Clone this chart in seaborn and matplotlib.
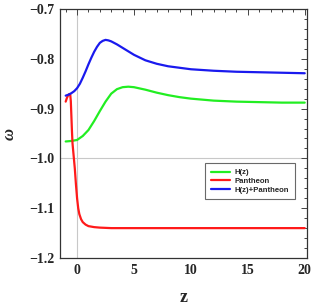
import numpy as np
import pandas as pd
import matplotlib
matplotlib.use("Agg")
import matplotlib.pyplot as plt
import seaborn as sns
from matplotlib.ticker import MultipleLocator

sns.set_style("white")

z_blue = [-1, -0.75, -0.5, -0.25, 0, 0.25, 0.5, 0.75, 1, 1.25, 1.5, 1.75, 2, 2.25, 2.5, 2.75, 3, 3.5, 4, 5, 6, 7, 8, 9, 10, 12, 14, 16, 18, 20]
w_blue = [-0.874, -0.872, -0.869, -0.865, -0.859, -0.850, -0.838, -0.825, -0.811, -0.798, -0.786, -0.776, -0.768, -0.764, -0.762, -0.763, -0.765, -0.771, -0.778, -0.792, -0.803, -0.810, -0.815, -0.818, -0.821, -0.824, -0.826, -0.827, -0.828, -0.829]

z_green = [-1, -0.5, 0, 0.5, 1, 1.5, 2, 2.5, 3, 3.5, 4, 4.5, 5, 6, 7, 8, 9, 10, 12, 14, 16, 18, 20]
w_green = [-0.966, -0.965, -0.963, -0.955, -0.943, -0.925, -0.905, -0.886, -0.870, -0.861, -0.857, -0.856, -0.857, -0.862, -0.868, -0.873, -0.877, -0.880, -0.884, -0.886, -0.887, -0.888, -0.888]

z_red = [-1, -0.9, -0.8, -0.7, -0.6, -0.55, -0.5, -0.45, -0.4, -0.3, -0.2, -0.1, 0, 0.1, 0.2, 0.35, 0.5, 0.75, 1, 1.5, 2, 3, 5, 10, 15, 20]
w_red = [-0.886, -0.879, -0.874, -0.871, -0.872, -0.885, -0.915, -0.945, -0.970, -0.995, -1.020, -1.052, -1.080, -1.100, -1.112, -1.122, -1.128, -1.133, -1.136, -1.138, -1.139, -1.140, -1.140, -1.140, -1.140, -1.140]

labels = ["H(z)", "Pantheon", "H(z)+Pantheon"]
colors = ["#22ee22", "#ff1a1a", "#1a1aee"]
xtick_vals = [0, 5, 10, 15, 20]
ytick_vals = [-1.2, -1.1, -1.0, -0.9, -0.8, -0.7]
ytick_labels = ["\u22121.2", "\u22121.1", "\u22121.0", "\u22120.9", "\u22120.8", "\u22120.7"]

df = pd.concat([
    pd.DataFrame({"z": z_green, "w": w_green, "model": labels[0]}),
    pd.DataFrame({"z": z_red, "w": w_red, "model": labels[1]}),
    pd.DataFrame({"z": z_blue, "w": w_blue, "model": labels[2]}),
])

fig = plt.figure(figsize=(3.13, 3.07), dpi=100)
ax = fig.add_axes([60/313, 1-258/307, 247/313, 249/307])

ax.axvline(0, color="#c8c8c8", lw=0.8, zorder=0)
ax.axhline(-1.0, color="#c8c8c8", lw=0.8, zorder=0)

sns.lineplot(data=df, x="z", y="w", hue="model", palette=dict(zip(labels, colors)),
             lw=1.6, ax=ax, sort=False, estimator=None)

ax.set_xlim(-1.5, 20.2)
ax.set_ylim(-1.2, -0.7)
ax.xaxis.set_minor_locator(MultipleLocator(1))
ax.yaxis.set_minor_locator(MultipleLocator(0.02))
ax.set_yticks(ytick_vals)
ax.set_yticklabels(ytick_labels, fontfamily="Liberation Serif", fontweight="bold", fontsize=10)
ax.set_xticks(xtick_vals)
ax.set_xticklabels([str(v) for v in xtick_vals], fontfamily="Liberation Serif", fontweight="bold", fontsize=10)
ax.tick_params(which="both", direction="in", top=True, right=True, color="#444444", width=0.7)
ax.tick_params(which="major", length=4.5, pad=4)
ax.tick_params(which="minor", length=2.5)
for s in ax.spines.values():
    s.set_color("#333333")
    s.set_linewidth(0.9)

ax.set_xlabel("z", fontfamily="Liberation Serif", fontweight="bold", fontsize=13, labelpad=9)
ax.set_ylabel("\u03c9", fontfamily="Liberation Serif", fontstyle="italic", fontweight="bold", fontsize=12, labelpad=8)

leg = ax.legend(loc="upper left", bbox_to_anchor=((205-60)/247, (258-163)/249),
                fontsize=5.6, frameon=True, fancybox=False, borderpad=0.75,
                handlelength=2.5, handletextpad=0.5, labelspacing=0.15, borderaxespad=0)
leg.get_frame().set_edgecolor("#444444")
leg.get_frame().set_linewidth(0.8)
for t in leg.get_texts():
    t.set_fontfamily("Liberation Sans")
    t.set_fontweight("bold")
for l in leg.get_lines():
    l.set_linewidth(1.6)

fig.savefig("out.png", dpi=100)
